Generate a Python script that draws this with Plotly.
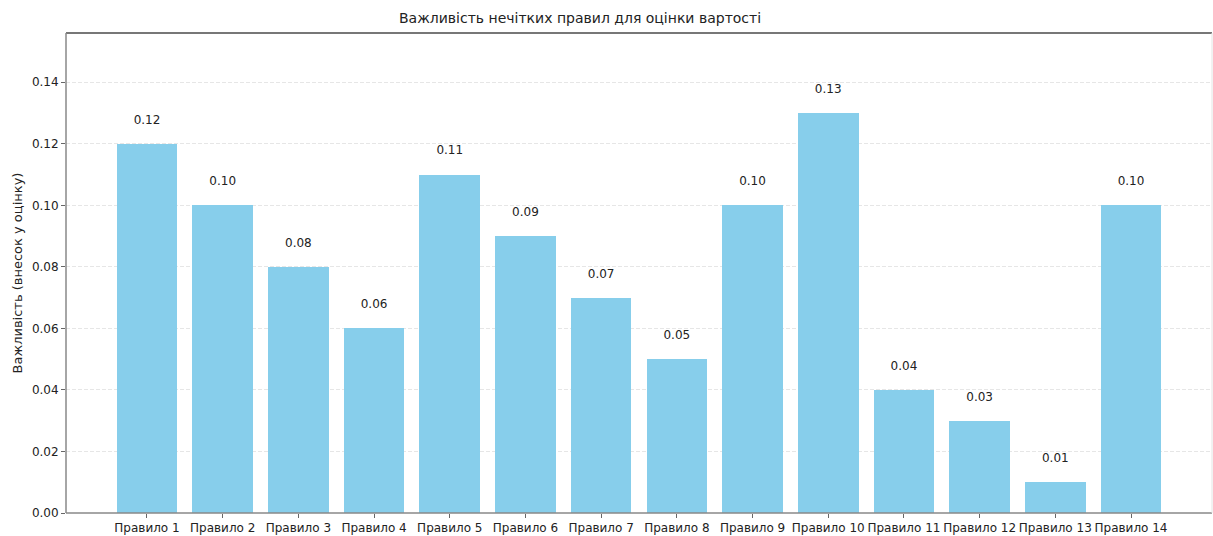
import plotly.graph_objects as go

# Rule names and their contribution to the valuation
rules = [f"Правило {i}" for i in range(1, 15)]
importance = [0.12, 0.10, 0.08, 0.06, 0.11, 0.09, 0.07, 0.05, 0.10, 0.13, 0.04, 0.03, 0.01, 0.10]
y_ticks = [0.00, 0.02, 0.04, 0.06, 0.08, 0.10, 0.12, 0.14]

FONT = "DejaVu Sans, Liberation Sans, sans-serif"
BAR_COLOR = "#87CEEB"

x_idx = list(range(len(rules)))

fig = go.Figure()
fig.add_trace(go.Bar(
    x=x_idx, y=importance, width=0.8,
    marker=dict(color=BAR_COLOR, line=dict(width=0)),
    hoverinfo="skip", showlegend=False,
))
# value labels above each bar
fig.add_trace(go.Scatter(
    x=x_idx, y=[v + 0.0075 for v in importance],
    mode="text", text=[f"{v:.2f}" for v in importance],
    textposition="middle center",
    textfont=dict(family=FONT, size=12, color="#222"),
    hoverinfo="skip", showlegend=False,
))

fig.update_layout(
    width=1213, height=536,
    margin=dict(l=66, r=1, t=33, b=23),
    paper_bgcolor="white", plot_bgcolor="white",
    font=dict(family=FONT, size=12, color="#222"),
    bargap=0,
    xaxis=dict(
        range=[-1.07, 14.07], tickmode="array", tickvals=x_idx, ticktext=rules,
        showgrid=False, zeroline=False, showline=False,
        ticks="outside", ticklen=4, tickcolor="#666",
        tickfont=dict(family=FONT, size=12, color="#222"),
    ),
    yaxis=dict(
        range=[0, 0.156], tickmode="array", tickvals=y_ticks,
        ticktext=[f"{t:.2f}" for t in y_ticks],
        showgrid=True, gridcolor="#e6e6e6", griddash="4px,2px", gridwidth=1,
        zeroline=False, showline=False,
        ticks="outside", ticklen=4, tickcolor="#666",
        tickfont=dict(family=FONT, size=12, color="#222"),
        title=dict(text="Важливість (внесок у оцінку)", font=dict(family=FONT, size=13, color="#222"), standoff=6),
    ),
    annotations=[dict(
        text="Важливість нечітких правил для оцінки вартості",
        xref="paper", yref="paper", x=(580 - 66) / 1146, y=1, yanchor="bottom", yshift=5,
        xanchor="center", showarrow=False,
        font=dict(family=FONT, size=14, color="#222"),
    )],
    shapes=[
        dict(type="line", xref="paper", yref="paper", x0=0, x1=1, y0=1, y1=1, line=dict(color="#777", width=2), layer="above"),
        dict(type="line", xref="paper", yref="paper", x0=0, x1=0, y0=0, y1=1, line=dict(color="#888", width=1.5), layer="above"),
        dict(type="line", xref="paper", yref="paper", x0=0, x1=1, y0=0, y1=0, line=dict(color="#888", width=1.5), layer="above"),
        dict(type="line", xref="paper", yref="paper", x0=1, x1=1, y0=0, y1=1, line=dict(color="#e4e4e4", width=1), layer="above"),
    ],
)

fig.write_html("out.html")
